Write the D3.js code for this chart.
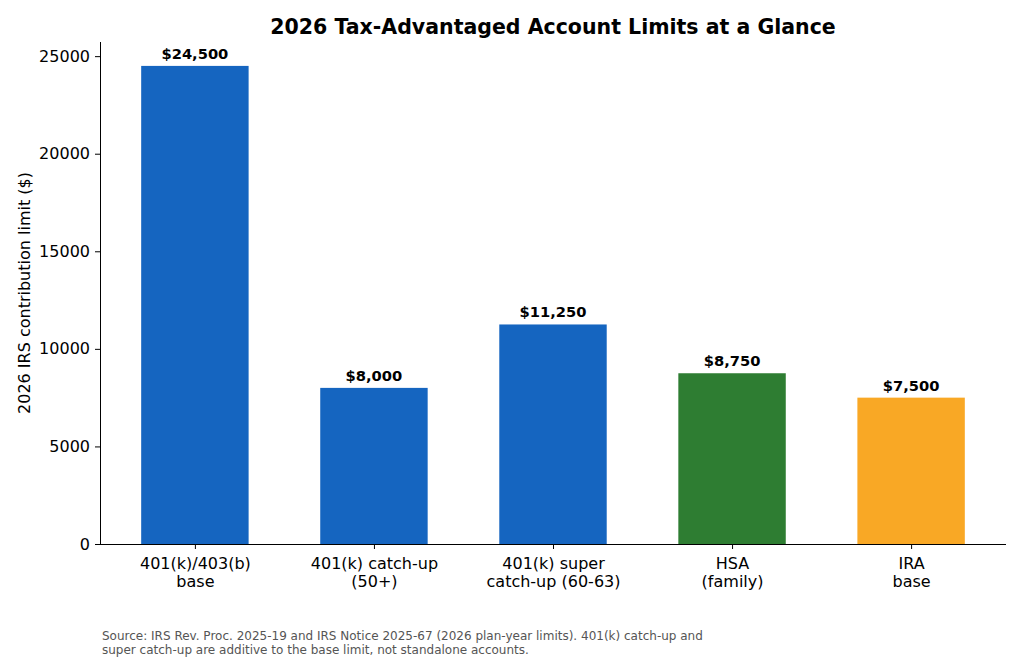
<!DOCTYPE html>
<html>
<head>
<meta charset="utf-8">
<script src="https://cdn.jsdelivr.net/npm/d3@7"></script>
<style>
  body { margin: 0; background: #fff; }
  svg { display: block; font-family: "DejaVu Sans", sans-serif; }
</style>
</head>
<body>
<div id="chart"></div>
<script>
// Daten
const categories = ["401(k)/403(b)\nbase", "401(k) catch-up\n(50+)", "401(k) super\ncatch-up (60-63)", "HSA\n(family)", "IRA\nbase"];
const limits = [24500, 8000, 11250, 8750, 7500];
const barColors = ["#1565C0", "#1565C0", "#1565C0", "#2E7D32", "#F9A825"];
const yTicks = [0, 5000, 10000, 15000, 20000, 25000];

const width = 1024, height = 660;
const margin = { top: 42, right: 18, bottom: 116, left: 100 };
const FONT = "DejaVu Sans, sans-serif";

const svg = d3.select("#chart").append("svg")
    .attr("width", width)
    .attr("height", height);

// Skalen (matplotlib-artige Ränder)
const x = d3.scaleLinear()
    .domain([-0.53, categories.length - 1 + 0.53])
    .range([margin.left, width - margin.right]);
const y = d3.scaleLinear()
    .domain([0, d3.max(limits) * 1.05])
    .range([height - margin.bottom, margin.top]);

const barW = x(0.6) - x(0);

// Balken
svg.selectAll("rect.bar")
    .data(limits)
    .join("rect")
    .attr("class", "bar")
    .attr("x", (d, i) => x(i) - barW / 2)
    .attr("y", d => y(d))
    .attr("width", barW)
    .attr("height", d => y(0) - y(d))
    .attr("fill", (d, i) => barColors[i]);

// Werte über den Balken
svg.selectAll("text.val")
    .data(limits)
    .join("text")
    .attr("class", "val")
    .attr("x", (d, i) => x(i))
    .attr("y", d => y(d) - 7)
    .attr("text-anchor", "middle")
    .attr("font-size", "14.7px")
    .attr("font-weight", "bold")
    .text(d => "$" + d3.format(",")(d));

// y-Achse
const yAxis = svg.append("g")
    .attr("transform", `translate(${margin.left},0)`)
    .call(d3.axisLeft(y).tickValues(yTicks).tickFormat(d3.format("d")).tickSizeOuter(0).tickSize(5).tickPadding(5));

// x-Achse
const xAxis = svg.append("g")
    .attr("transform", `translate(0,${y(0)})`)
    .call(d3.axisBottom(x).tickValues(d3.range(categories.length)).tickFormat("").tickSizeOuter(0).tickSize(5));

xAxis.select(".domain").attr("d", `M${margin.left},0.5H${width - margin.right}`);
yAxis.select(".domain").attr("d", `M0.5,${y(0)}V${margin.top}`);

[xAxis, yAxis].forEach(a => {
    a.attr("font-family", FONT).attr("font-size", 16);
    a.selectAll(".domain, line").attr("stroke", "#000").attr("stroke-width", 1);
    a.selectAll("text").attr("font-size", "16px").attr("fill", "#000");
});

// mehrzeilige Kategorien-Labels
xAxis.selectAll(".tick").each(function (d) {
    const t = d3.select(this).append("text")
        .attr("text-anchor", "middle")
        .attr("font-family", FONT)
        .attr("font-size", "16px")
        .attr("fill", "#000");
    categories[d].split("\n").forEach((line, k) => {
        t.append("tspan").attr("x", 0).attr("y", 25 + k * 18).text(line);
    });
});

// Titel
svg.append("text")
    .attr("x", (margin.left + width - margin.right) / 2)
    .attr("y", 34)
    .attr("text-anchor", "middle")
    .attr("font-size", "20.5px")
    .attr("font-weight", "bold")
    .text("2026 Tax-Advantaged Account Limits at a Glance");

// y-Label
svg.append("text")
    .attr("transform", `translate(30,${(margin.top + y(0)) / 2}) rotate(-90)`)
    .attr("text-anchor", "middle")
    .attr("font-size", "16px")
    .text("2026 IRS contribution limit ($)");

// Quelle
const src = svg.append("text")
    .attr("x", 102)
    .attr("font-size", "12px")
    .attr("fill", "#555");
["Source: IRS Rev. Proc. 2025-19 and IRS Notice 2025-67 (2026 plan-year limits). 401(k) catch-up and",
 "super catch-up are additive to the base limit, not standalone accounts."].forEach((line, k) => {
    src.append("tspan").attr("x", 102).attr("y", 640 + k * 13.5).text(line);
});
</script>
</body>
</html>
